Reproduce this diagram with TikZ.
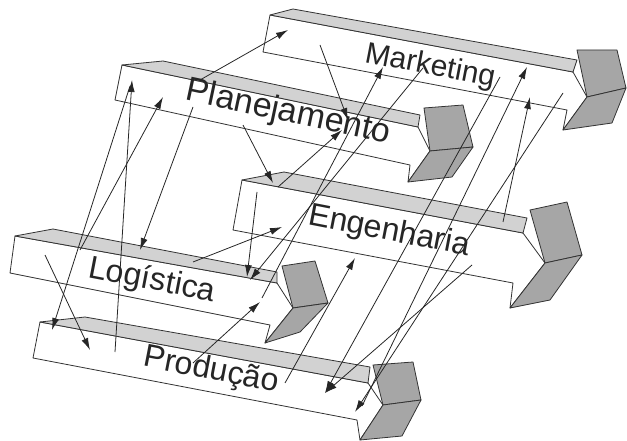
\documentclass[tikz,border=0pt]{standalone}
\usepackage{fontspec}
\setmainfont{Liberation Sans}
\usetikzlibrary{arrows.meta}

\begin{document}
\begin{tikzpicture}[
    x=1pt, y=-1pt,
    >={Latex[length=12pt,width=7pt]},
    face/.style={draw=black!80, fill=white, line width=0.8pt, line join=round},
    strip/.style={draw=black!80, fill=gray!35, line width=0.8pt, line join=round},
    tip/.style={draw=black!80, fill=gray!70, line width=0.8pt, line join=round},
    label/.style={font=\fontsize{32}{38}\selectfont, text=black!85, inner sep=0pt},
    link/.style={->, line width=0.8pt, black!85}
]
    \useasboundingbox (0,0) rectangle (627,441);

    % Marketing
    \draw[face] (270,15) -- (573,72) -- (587,97) -- (563,130) -- (567,110) -- (263,52) -- cycle;
    \draw[strip] (270,15) -- (293,9) -- (577,60) -- (573,72) -- cycle;
    \draw[tip] (577,50) -- (617,50) -- (626,88) -- (587,97) -- cycle;
    \draw[tip] (587,97) -- (626,88) -- (612,123) -- (563,130) -- cycle;
    \node[label, font=\fontsize{30}{36}\selectfont, rotate=-11] (mkt) at (430,67) {Marketing};

    % Planejamento
    \draw[face] (122,65) -- (418,127) -- (430,151) -- (408,182) -- (410,165) -- (115,100) -- cycle;
    \draw[strip] (122,65) -- (163,61) -- (420,115) -- (418,127) -- cycle;
    \draw[tip] (424,108) -- (463,105) -- (473,147) -- (430,151) -- cycle;
    \draw[tip] (430,151) -- (473,147) -- (452,177) -- (408,182) -- cycle;
    \node[label, font=\fontsize{34}{40}\selectfont, rotate=-12] (plan) at (288,113) {Planejamento};

    % Engenharia
    \draw[face] (242,180) -- (523,233) -- (545,263) -- (510,308) -- (513,283) -- (233,230) -- cycle;
    \draw[strip] (242,180) -- (284,172) -- (527,218) -- (523,233) -- cycle;
    \draw[tip] (530,210) -- (567,202) -- (582,255) -- (545,263) -- cycle;
    \draw[tip] (545,263) -- (582,255) -- (550,300) -- (510,308) -- cycle;
    \node[label, rotate=-11] (eng) at (389,232) {Engenharia};

    % Logistica
    \draw[face] (15,236) -- (277,283) -- (293,308) -- (265,343) -- (270,325) -- (10,273) -- cycle;
    \draw[strip] (15,236) -- (53,229) -- (277,272) -- (277,283) -- cycle;
    \draw[tip] (282,266) -- (315,261) -- (328,303) -- (293,308) -- cycle;
    \draw[tip] (293,308) -- (328,303) -- (300,332) -- (265,343) -- cycle;
    \node[label, rotate=-11] (log) at (152,281) {Logística};

    % Producao
    \draw[face] (40,322) -- (368,383) -- (383,405) -- (360,440) -- (357,420) -- (33,358) -- cycle;
    \draw[strip] (40,322) -- (85,317) -- (370,367) -- (368,383) -- cycle;
    \draw[tip] (373,365) -- (413,362) -- (421,400) -- (383,405) -- cycle;
    \draw[tip] (383,405) -- (421,400) -- (402,436) -- (360,440) -- cycle;
    \node[label, rotate=-11] (prod) at (211,371) {Produção};

    % anchor points of the links
    \coordinate (mk1) at (288,30);
    \coordinate (mk2) at (320,45);
    \coordinate (mk3) at (383,67);
    \coordinate (mk4) at (423,68);
    \coordinate (mk5) at (500,77);
    \coordinate (mk6) at (527,67);
    \coordinate (mk7) at (530,97);
    \coordinate (mk8) at (563,93);
    \coordinate (pl1) at (200,80);
    \coordinate (pl2) at (348,120);
    \coordinate (pl3) at (342,130);
    \coordinate (pl4) at (243,125);
    \coordinate (pl5) at (193,107);
    \coordinate (pl6) at (132,80);
    \coordinate (pl7) at (130,86);
    \coordinate (pl8) at (163,97);
    \coordinate (en1) at (278,187);
    \coordinate (en2) at (273,183);
    \coordinate (en3) at (257,192);
    \coordinate (en4) at (282,227);
    \coordinate (en5) at (503,222);
    \coordinate (en6) at (472,265);
    \coordinate (en7) at (355,258);
    \coordinate (lo1) at (262,298);
    \coordinate (lo2) at (250,280);
    \coordinate (lo3) at (247,277);
    \coordinate (lo4) at (193,262);
    \coordinate (lo5) at (140,250);
    \coordinate (lo6) at (80,250);
    \coordinate (lo7) at (45,255);
    \coordinate (lo8) at (260,302);
    \coordinate (pr1) at (115,352);
    \coordinate (pr2) at (52,330);
    \coordinate (pr3) at (90,350);
    \coordinate (pr4) at (193,363);
    \coordinate (pr5) at (355,412);
    \coordinate (pr6) at (325,393);
    \coordinate (pr7) at (285,383);
    \coordinate (pr8) at (362,406);

    % Links
    \draw[link] (pl1) -- (mk1);
    \draw[link] (mk2) -- (pl2);
    \draw[link] (en1) -- (pl3);
    \draw[link] (lo1) -- (mk3);
    \draw[link] (mk4) -- (lo2);
    \draw[link] (pl4) -- (en2);
    \draw[link] (en3) -- (lo3);
    \draw[link] (lo4) -- (en4);
    \draw[link] (pl5) -- (lo5);
    \draw[link] (pr1) -- (pl6);
    \draw[link] (pl7) -- (pr2);
    \draw[link] (lo6) -- (pl8);
    \draw[link] (lo7) -- (pr3);
    \draw[link] (pr4) -- (lo8);
    \draw[link] (en5) -- (mk7);
    \draw[link] (mk8) -- (pr5);
    \draw[link] (en6) -- (pr6);
    \draw[link] (mk5) -- (pr6);
    \draw[link] (pr7) -- (en7);
    \draw[link] (pr8) -- (mk6);
\end{tikzpicture}
\end{document}
